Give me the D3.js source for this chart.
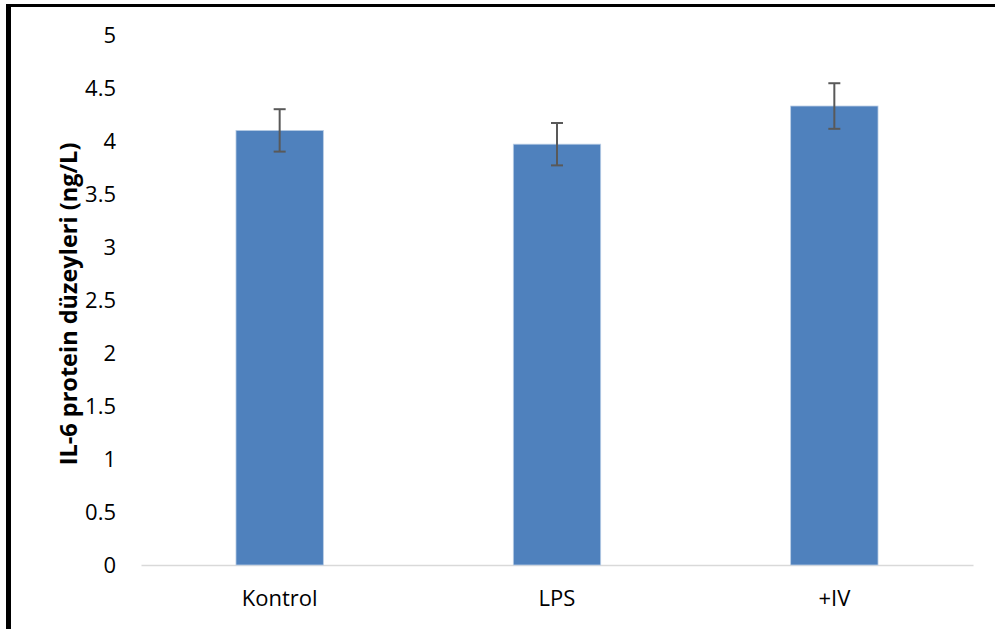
<!DOCTYPE html>
<html><head><meta charset="utf-8">
<script src="https://cdn.jsdelivr.net/npm/d3@7"></script>
<style>html,body{margin:0;padding:0;background:#fff;}svg{display:block;}</style>
</head><body>
<script>
const categories = ["Kontrol", "LPS", "+IV"];
const values = [4.10, 3.97, 4.33];
const errors = [0.20, 0.20, 0.215];
const yTicks = [0, 0.5, 1, 1.5, 2, 2.5, 3, 3.5, 4, 4.5, 5];
const yLabel = "IL-6 protein düzeyleri (ng/L)";

const W = 995, H = 629;
const svg = d3.select("body").append("svg").attr("width", W).attr("height", H);
const font = "'Open Sans', 'Liberation Sans', sans-serif";

// frame
svg.append("line").attr("x1", 8.5).attr("x2", 8.5).attr("y1", 4).attr("y2", H).attr("stroke", "#000").attr("stroke-width", 5);
svg.append("line").attr("x1", 6).attr("x2", W).attr("y1", 5.5).attr("y2", 5.5).attr("stroke", "#000").attr("stroke-width", 3);

const x = d3.scaleBand().domain(categories).range([141, 973]).padding(0);
const y = d3.scaleLinear().domain([0, 5]).range([565, 35]);
const barW = x.bandwidth() * 0.315;

// y tick labels
const yAxis = d3.axisLeft(y).tickValues(yTicks).tickSize(0).tickPadding(0).tickFormat(d => String(d));
const yg = svg.append("g").attr("transform", "translate(116,0)").call(yAxis);
yg.select(".domain").remove();
yg.selectAll("text").attr("font-family", font).attr("font-size", 22).attr("fill", "#000").attr("dy", "0.35em");

// x axis baseline and labels
const xAxis = d3.axisBottom(x).tickSize(0).tickPadding(0);
const xg = svg.append("g").attr("transform", `translate(0,${y(0)})`).call(xAxis);
xg.select(".domain").attr("stroke", "#d9d9d9").attr("stroke-width", 1.5);
xg.selectAll("text").attr("font-family", font).attr("font-size", 22).attr("fill", "#000").attr("y", 25).attr("dy", "0.71em");

// bars
svg.selectAll("rect.bar").data(values).join("rect").attr("class", "bar")
  .attr("x", (d, i) => x(categories[i]) + x.bandwidth() / 2 - barW / 2)
  .attr("width", barW)
  .attr("y", d => y(d))
  .attr("height", d => y(0) - y(d))
  .attr("fill", "#4f81bd")
  .attr("stroke", "#b9cde5").attr("stroke-width", 0.8);

// error bars
const eg = svg.append("g").attr("stroke", "#595959").attr("stroke-width", 2);
values.forEach((v, i) => {
  const cx = x(categories[i]) + x.bandwidth() / 2;
  eg.append("line").attr("x1", cx).attr("x2", cx).attr("y1", y(v + errors[i])).attr("y2", y(v - errors[i]));
  eg.append("line").attr("x1", cx - 6).attr("x2", cx + 6).attr("y1", y(v + errors[i])).attr("y2", y(v + errors[i]));
  eg.append("line").attr("x1", cx - 6).attr("x2", cx + 6).attr("y1", y(v - errors[i])).attr("y2", y(v - errors[i]));
});

// y label
svg.append("text").attr("transform", "translate(77,304) rotate(-90)")
  .attr("text-anchor", "middle").attr("font-family", font).attr("font-weight", "bold")
  .attr("font-size", 23.5).attr("fill", "#000").text(yLabel);
</script>
</body></html>
